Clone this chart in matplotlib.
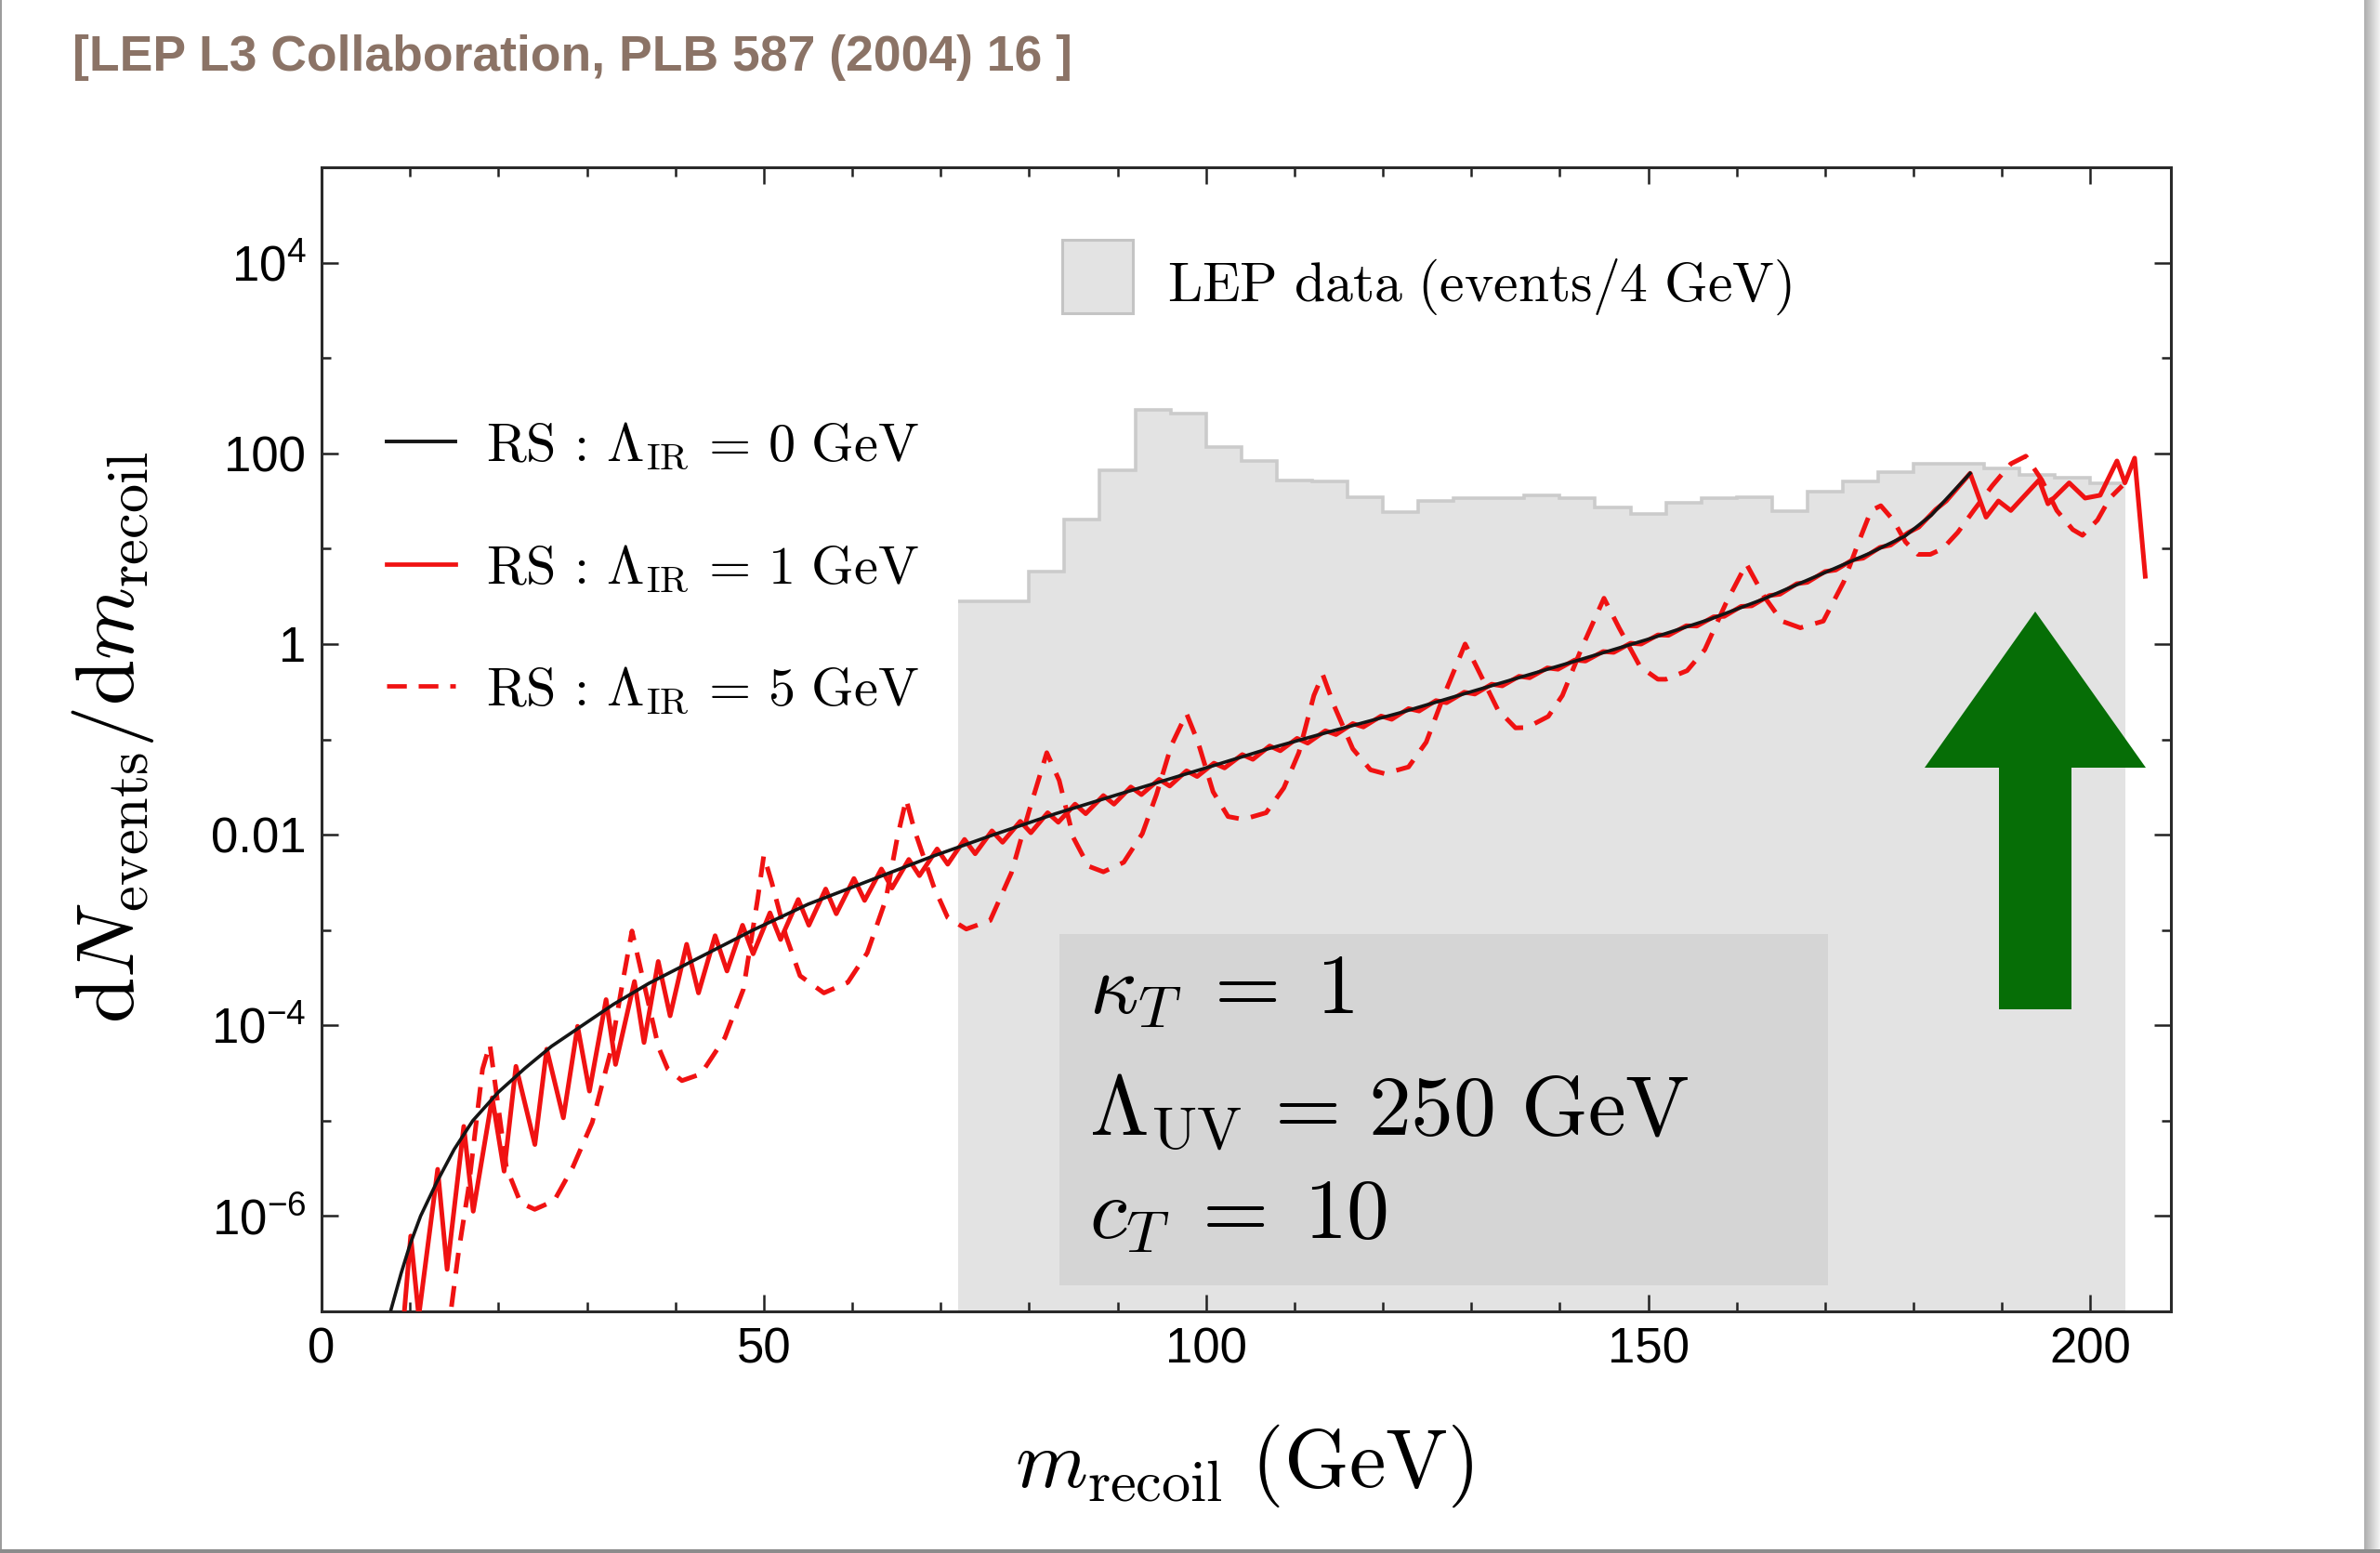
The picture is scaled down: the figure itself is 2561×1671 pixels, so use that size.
import numpy as np
import matplotlib.pyplot as plt
from matplotlib.patches import Rectangle, Polygon
from matplotlib.ticker import FixedLocator, FixedFormatter, NullFormatter

plt.rcParams['mathtext.fontset'] = 'cm'
plt.rcParams['font.family'] = ['Liberation Sans', 'DejaVu Sans']

# LEP L3 recoil-mass data, events per 4 GeV bin starting at 72 GeV
lep_counts = [2.8, 2.8, 5.7, 20, 67, 286, 260, 116, 84, 52, 51, 35, 24, 32, 34,
              33.5, 36, 34, 27, 23, 30, 33.5, 35, 25, 40, 51, 64, 77, 78, 70,
              60, 55, 49]

# RS, Lambda_IR = 0 GeV (continuum), log10 of dN/dm
rs0_mass = [7.8, 9, 10, 11.2, 13, 15, 17.1, 20, 23, 26, 29.5, 33, 37, 41, 45,
            48.8, 55, 62, 69, 76, 83, 90, 100, 107, 114, 122, 130, 141, 150,
            157, 163, 170, 175, 179, 182, 184.5, 186.4]
rs0_log = [-7.0, -6.6, -6.3, -6.0, -5.65, -5.3, -5.0, -4.7, -4.45, -4.22, -4.0,
           -3.78, -3.56, -3.37, -3.18, -3.0, -2.73, -2.48, -2.23, -2.0, -1.78,
           -1.58, -1.3, -1.1, -0.92, -0.72, -0.5, -0.2, 0.05, 0.26, 0.47, 0.75,
           0.95, 1.13, 1.35, 1.6, 1.79]

# RS, Lambda_IR = 1 GeV
rs1_mass = [9.0, 10.08, 10.99, 13.13, 14.2, 16.08, 17.15, 19.3, 20.64, 21.98,
            24.12, 25.46, 27.34, 28.95, 30.29, 32.17, 33.24, 35.38, 36.46, 38.07,
            39.41, 41.28, 42.62, 44.5, 45.84,
            47.6, 48.8, 50.7, 51.9, 53.9, 55.1, 57.0, 58.2, 60.2, 61.4, 63.3, 64.5,
            66.4, 67.6, 69.6, 70.8, 72.7, 73.9, 75.8, 77.0, 79.0, 80.2, 82.1, 83.3,
            85.2, 86.4, 88.4, 89.6, 91.5, 92.7, 94.7, 95.9, 97.8, 99.0, 100.9, 102.1,
            104.1, 105.3, 107.2, 108.4, 110.3, 111.5, 113.5, 114.7, 116.6, 117.8,
            119.8, 121.0, 122.9, 124.1, 126.0, 127.2, 129.2, 130.4, 132.3, 133.5,
            135.4, 136.6, 138.6, 139.8, 141.7, 142.9, 144.9, 146.1, 148.0, 149.2,
            151.1, 152.3, 154.3, 155.5, 157.4, 158.6, 160.5, 161.7, 163.7, 164.9,
            166.8, 168.0, 170.0, 171.2, 173.1, 174.3, 176.2, 177.4, 179.4, 180.6,
            182.5, 183.7,
            186.4, 188.2, 189.6, 191.0, 194.2, 195.2, 197.6, 199.4, 201.1, 203.0,
            203.9, 205.0, 206.2]
rs1_log = [-7.4, -6.21, -7.05, -5.51, -6.56, -5.06, -5.95, -4.76, -5.53, -4.43,
           -5.25, -4.25, -4.97, -4.01, -4.69, -3.73, -4.41, -3.54, -4.18, -3.33,
           -3.90, -3.15, -3.66, -3.06, -3.43,
           -2.95, -3.25, -2.82, -3.10, -2.68, -2.95, -2.57, -2.83, -2.46, -2.69,
           -2.36, -2.56, -2.26, -2.43, -2.15, -2.31, -2.05, -2.20, -1.96, -2.08,
           -1.86, -1.98, -1.77, -1.87, -1.68, -1.78, -1.59, -1.68, -1.50, -1.58,
           -1.42, -1.49, -1.33, -1.39, -1.25, -1.30, -1.16, -1.21, -1.07, -1.12,
           -0.99, -1.04, -0.91, -0.95, -0.835, -0.87, -0.756, -0.79, -0.678, -0.703,
           -0.594, -0.616, -0.506, -0.525, -0.422, -0.439, -0.339, -0.354, -0.251,
           -0.265, -0.168, -0.179, -0.079, -0.088, 0.008, -0.001, 0.095, 0.091,
           0.191, 0.188, 0.285, 0.29, 0.394, 0.40, 0.508, 0.522, 0.632, 0.647,
           0.76, 0.776, 0.883, 0.90, 1.013, 1.037, 1.168, 1.226, 1.41, 1.50,
           1.79, 1.33, 1.50, 1.40, 1.72, 1.47, 1.69, 1.53, 1.56, 1.92, 1.69, 1.95,
           0.71]

# RS, Lambda_IR = 5 GeV
rs5_mass = [14.2, 15.5, 16.6, 18.2, 19.03, 20.9, 22.5, 24.1, 26.3, 28.4, 30.6,
            32.7, 34.0, 35.1, 38.1, 39.15, 40.75, 42.9, 45.6, 47.7, 49.3, 50.0,
            50.9, 52.5, 54.1, 56.8, 59.5, 61.7, 63.8, 65.1, 66.1, 67.0, 69.2, 70.8,
            72.9, 75.6, 78.0, 80.0, 82.0, 83.4, 85.0, 86.7, 88.4, 90.7, 92.8, 94.4,
            96.1, 97.8, 99.1, 100.8, 102.5, 104.2, 106.8, 108.8, 110.5, 112.2,
            113.2, 114.5, 116.6, 118.6, 120.2, 122.9, 124.9, 126.9, 129.3, 130.6,
            133.0, 135.0, 136.3, 138.7, 140.3, 142.4, 145.0, 146.7, 149.1, 151.1,
            152.0, 154.4, 156.4, 158.8, 161.1, 163.1, 165.1, 167.2, 169.8, 172.1,
            173.8, 175.2, 176.3, 177.7, 179.1, 180.5, 181.9, 183.3, 185.0, 186.8,
            188.9, 191.0, 192.7, 194.5, 196.2, 198.0, 199.1, 200.8, 202.2, 203.6]
rs5_log = [-7.3, -6.37, -5.72, -4.46, -4.20, -5.49, -5.86, -5.93, -5.84, -5.49,
           -5.02, -4.27, -3.57, -3.01, -4.23, -4.46, -4.58, -4.51, -4.13, -3.62,
           -2.68, -2.22, -2.50, -3.06, -3.48, -3.66, -3.55, -3.24, -2.68, -2.03,
           -1.63, -1.94, -2.54, -2.87, -2.99, -2.90, -2.40, -1.75, -1.14, -1.43,
           -2.03, -2.33, -2.39, -2.29, -1.99, -1.58, -1.06, -0.73, -1.03, -1.55,
           -1.81, -1.84, -1.77, -1.51, -1.14, -0.54, -0.32, -0.65, -1.10, -1.32,
           -1.36, -1.29, -1.03, -0.54, 0.0, -0.24, -0.69, -0.88, -0.876, -0.76,
           -0.54, -0.06, 0.48, 0.17, -0.24, -0.37, -0.37, -0.28, -0.06, 0.43,
           0.84, 0.50, 0.24, 0.17, 0.24, 0.65, 1.07, 1.40, 1.45, 1.30, 1.07,
           0.94, 0.94, 1.0, 1.17, 1.40, 1.66, 1.89, 1.97, 1.72, 1.40, 1.20, 1.14,
           1.30, 1.53, 1.66]

x_major = [0, 50, 100, 150, 200]
x_minor = [10, 20, 30, 40, 60, 70, 80, 90, 110, 120, 130, 140, 160, 170, 180, 190]
y_major = [1e-6, 1e-4, 1e-2, 1, 1e2, 1e4]
y_labels = [r'$\mathregular{10^{-6}}$', r'$\mathregular{10^{-4}}$', '0.01', '1',
            '100', r'$\mathregular{10^{4}}$']
y_minor = [1e-5, 1e-3, 1e-1, 1e1, 1e3]

legend_labels = [r'${\rm RS}\,:\,\Lambda_{\rm IR}\,=\,0\ {\rm GeV}$',
                 r'${\rm RS}\,:\,\Lambda_{\rm IR}\,=\,1\ {\rm GeV}$',
                 r'${\rm RS}\,:\,\Lambda_{\rm IR}\,=\,5\ {\rm GeV}$']
param_lines = [r'$\kappa_T\;=\;1$', r'$\Lambda_{\rm UV}\,=\,250\ {\rm GeV}$',
               r'$c_T\;=\;10$']

RED = '#f01212'
BLACK = '#151515'
FILL = '#e3e3e3'
DASH = (0, (4.5, 2.7))

W, H = 2561, 1671
fig = plt.figure(figsize=(W / 100, H / 100), dpi=100)


def fx(px):
    return px / W


def fy(py):
    return 1 - py / H


ax = fig.add_axes([fx(346), fy(1411), fx(2336) - fx(346), fy(180) - fy(1411)])
ax.set_yscale('log')

# data histogram
edges = np.arange(72, 205, 4)
ax.stairs(lep_counts, edges, baseline=1e-9, fill=True, color=FILL, lw=0, zorder=1)
ax.stairs(lep_counts, edges, baseline=None, color='#cbcbcb', lw=2.6, zorder=1.2)

# theory curves
ax.plot(rs1_mass, 10.0 ** np.array(rs1_log), color=RED, lw=3.6, zorder=4)
ax.plot(rs5_mass, 10.0 ** np.array(rs5_log), color=RED, lw=3.6, ls=DASH, zorder=4)
ax.plot(rs0_mass, 10.0 ** np.array(rs0_log), color=BLACK, lw=2.6, zorder=5)

ax.set_xlim(0, 209.1)
ax.set_ylim(1e-7, 1e5)

ax.xaxis.set_major_locator(FixedLocator(x_major))
ax.xaxis.set_minor_locator(FixedLocator(x_minor))
ax.yaxis.set_major_locator(FixedLocator(y_major))
ax.yaxis.set_major_formatter(FixedFormatter(y_labels))
ax.yaxis.set_minor_locator(FixedLocator(y_minor))
ax.yaxis.set_minor_formatter(NullFormatter())
ax.tick_params(which='both', direction='in', top=True, right=True,
               width=1.8, color='#222222')
ax.tick_params(which='major', length=13, labelsize=38, pad=12)
ax.tick_params(which='minor', length=7.5)
for s in ax.spines.values():
    s.set_color('#2a2a2a')
    s.set_linewidth(2.2)

ax.set_xlabel(r'$m_{\rm recoil}\ ({\rm GeV})$', fontsize=64)
ax.xaxis.set_label_coords(0.499, -0.0967)
ax.set_ylabel(r'${\rm d}N_{\rm events}/{\rm d}m_{\rm recoil}$', fontsize=64,
              va='center', ha='center')
ax.yaxis.set_label_coords(-0.1126, 0.502)

# legend for the theory curves
styles = [dict(color=BLACK, lw=2.8), dict(color=RED, lw=3.4),
          dict(color=RED, lw=3.4, ls=DASH)]
for i, (lab, st) in enumerate(zip(legend_labels, styles)):
    yy = 0.760 - i * 0.1066
    ax.plot([0.0352, 0.0724], [yy, yy], transform=ax.transAxes, zorder=6, **st)
    ax.text(0.0889, yy - 0.0162, lab, transform=ax.transAxes, fontsize=42,
            va='baseline', ha='left', zorder=6)

# legend for the data
ax.add_patch(Rectangle((0.4005, 0.8725), 0.0382, 0.0641, transform=ax.transAxes,
                       fc=FILL, ec='#c4c4c4', lw=2.2, zorder=6))
ax.text(0.4573, 0.883, r'${\rm LEP\ data\ (events/4\ GeV)}$', transform=ax.transAxes,
        fontsize=43, va='baseline', ha='left', zorder=6)

# parameter box
ax.add_patch(Rectangle((0.399, 0.0227), 0.4156, 0.3071, transform=ax.transAxes,
                       fc='#d5d5d5', ec='none', zorder=2))
for yy, txt in zip([0.2608, 0.1543, 0.0642], param_lines):
    ax.text(0.415, yy, txt, transform=ax.transAxes, fontsize=66,
            va='baseline', ha='left', zorder=3)

# green arrow
arrow_px = [(2190, 658), (2309, 826), (2229, 826), (2229, 1086),
            (2151, 1086), (2151, 826), (2071, 826)]
fig.add_artist(Polygon([(fx(a), fy(b)) for a, b in arrow_px], closed=True,
                       transform=fig.transFigure, fc='#066e06', ec='none', zorder=5))

# reference tag
fig.text(fx(78), fy(76), '[LEP L3 Collaboration, PLB 587 (2004) 16 ]', fontsize=38.5,
         fontweight='bold', color='#8b7366',
         family=['Liberation Sans Narrow', 'Liberation Sans'], va='baseline')

# page frame: thin edges and a soft shadow on the right
fig.add_artist(Rectangle((0, 0), 2 / W, 1, transform=fig.transFigure,
                         fc='#9c9c9c', ec='none'))
fig.add_artist(Rectangle((0, 0), 1, 4 / H, transform=fig.transFigure,
                         fc='#8c8c8c', ec='none'))
sh = fig.add_axes([fx(2544), 0, 17 / W, 1])
sh.imshow(np.linspace(0.68, 0.95, 20)[None, :], cmap='gray', vmin=0, vmax=1,
          aspect='auto')
sh.axis('off')

fig.savefig('out.png', dpi=100)
